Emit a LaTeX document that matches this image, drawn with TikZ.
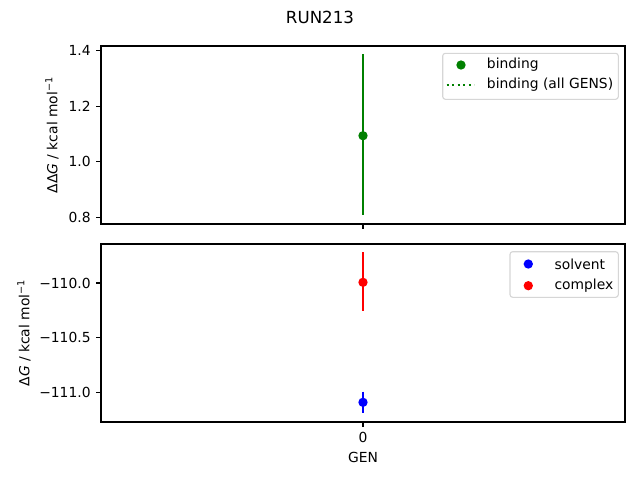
\documentclass[tikz,border=0pt]{standalone}
\usepackage{fontspec}
\setmainfont{DejaVu Sans}
\usetikzlibrary{positioning}

\definecolor{mplgreen}{RGB}{0,128,0}
\definecolor{mplblue}{RGB}{0,0,255}
\definecolor{mplred}{RGB}{255,0,0}
\definecolor{lgdedge}{RGB}{214,214,214}

\begin{document}
\begin{tikzpicture}[x=0.75pt, y=-0.75pt,
    frame/.style={draw=black, line width=0.83pt},
    ticklbl/.style={font=\fontsize{10.4}{12}\selectfont, inner sep=0pt},
    axlbl/.style={font=\fontsize{10.4}{12}\selectfont, inner sep=0pt},
    lgdtxt/.style={font=\fontsize{10.4}{12}\selectfont, inner sep=0pt, anchor=west},
    lgdbox/.style={draw=lgdedge, fill=white, line width=0.83pt, rounded corners=2pt},
    errbar/.style={line width=1.56pt},
    dot/.style={circle, inner sep=0pt, minimum size=7pt}]
    \useasboundingbox (0,0) rectangle (640,480);

    % title
    \node[font=\fontsize{12.5}{14}\selectfont, inner sep=0pt] (title) at (320,17) {RUN213};

    % top panel: binding
    \draw[frame] (101,46) rectangle (625,224);
    \foreach \yy/\lbl [count=\i] in {50.7/1.4, 106.2/1.2, 161.8/1.0, 217.3/0.8} {
        \draw[frame] (101,\yy) -- ++(-4.9,0)
            node[ticklbl, anchor=east, xshift=-3.7pt] (ttick\i) {\lbl};
    }
    \draw[frame] (363,224) -- ++(0,4.9);
    \node[axlbl, rotate=90] (ylab-top) at (52,135)
        {ΔΔ\textit{G} / kcal mol\textsuperscript{−1}};

    \coordinate (bind-hi) at (363,54);
    \coordinate (bind-lo) at (363,215);
    \draw[errbar, mplgreen] (bind-hi) -- (bind-lo);
    \node[dot, fill=mplgreen] (bind) at (363,135.7) {};

    \draw[lgdbox] (442.7,53.3) rectangle (618.3,99.3);
    \node[dot, fill=mplgreen] (lg-bind) at (461,65) {};
    \node[lgdtxt] (lg-bind-txt) at (486.7,65) {binding};
    \coordinate (lg-all-a) at (446.7,85);
    \coordinate (lg-all-b) at (474.3,85);
    \draw[mplgreen, line width=1.56pt, dash pattern=on 1.56pt off 2.58pt] (lg-all-a) -- (lg-all-b);
    \node[lgdtxt] (lg-all-txt) at (486.7,85) {binding (all GENS)};

    % bottom panel: solvent / complex
    \draw[frame] (101,244) rectangle (625,422);
    \foreach \yy/\lbl [count=\i] in {283/−110.0, 337.7/−110.5, 392.3/−111.0} {
        \draw[frame] (101,\yy) -- ++(-4.9,0)
            node[ticklbl, anchor=east, xshift=-3.7pt] (btick\i) {\lbl};
    }
    \draw[frame] (363,422) -- ++(0,4.9)
        node[ticklbl, anchor=north, yshift=-3.7pt] (xtick0) {0};
    \node[axlbl] (xlab) at (363,457.3) {GEN};
    \node[axlbl, rotate=90] (ylab-bot) at (24,333)
        {Δ\textit{G} / kcal mol\textsuperscript{−1}};

    \coordinate (cplx-hi) at (363,252.3);
    \coordinate (cplx-lo) at (363,311);
    \draw[errbar, mplred] (cplx-hi) -- (cplx-lo);
    \node[dot, fill=mplred] (cplx) at (363,282.3) {};

    \coordinate (solv-hi) at (363,391.7);
    \coordinate (solv-lo) at (363,413.3);
    \draw[errbar, mplblue] (solv-hi) -- (solv-lo);
    \node[dot, fill=mplblue] (solv) at (363,402.3) {};

    \draw[lgdbox] (510,251.7) rectangle (618.3,297.3);
    \node[dot, fill=mplblue] (lg-solv) at (528.3,264) {};
    \node[lgdtxt] (lg-solv-txt) at (554.3,264) {solvent};
    \node[dot, fill=mplred] (lg-cplx) at (528.3,285.7) {};
    \node[lgdtxt] (lg-cplx-txt) at (554.3,285.7) {complex};
\end{tikzpicture}
\end{document}
